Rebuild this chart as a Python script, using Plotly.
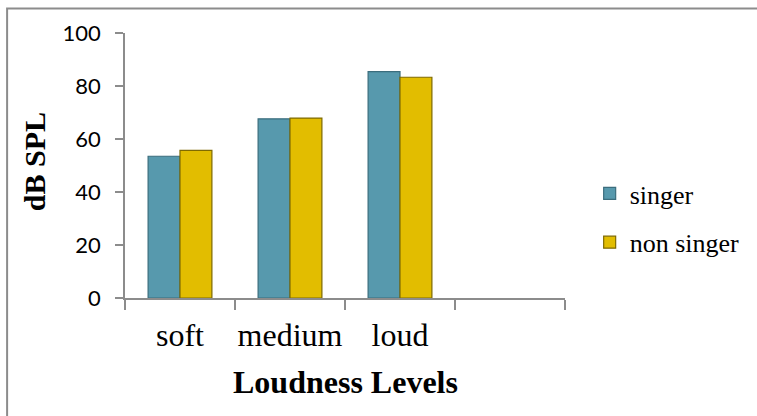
import plotly.graph_objects as go

# Mean sound pressure level per loudness level
levels = ["soft", "medium", "loud"]
axis_categories = ["soft", "medium", "loud", " "]
singer = [53.5, 67.6, 85.4]
non_singer = [55.7, 67.9, 83.3]

fig = go.Figure()
fig.add_trace(go.Bar(
    name="singer", x=levels, y=singer,
    marker=dict(color="#5799ad", line=dict(color="#3b6d7d", width=1.2)),
    legendgroup="a",
))
fig.add_trace(go.Bar(
    name="non singer", x=levels, y=non_singer,
    marker=dict(color="#e2bd00", line=dict(color="#7f6a00", width=1.2)),
    legendgroup="b",
))

W, H = 757, 416
ML, MR, MT, MB = 125, 186, 33, 118
pw, ph = W - ML - MR, H - MT - MB


def px(x):
    return (x - ML) / pw


def py(y):
    return (H - MB - y) / ph


serif = "Liberation Serif"

fig.update_layout(
    width=W, height=H, autosize=False,
    margin=dict(l=ML, r=MR, t=MT, b=MB, pad=0),
    paper_bgcolor="white", plot_bgcolor="white",
    barmode="group", bargap=0.42, bargroupgap=0,
    showlegend=True,
    legend=dict(
        x=px(596), y=py(170), xanchor="left", yanchor="top",
        font=dict(family=serif, size=26, color="black"),
        bgcolor="rgba(0,0,0,0)", tracegroupgap=12,
    ),
    xaxis=dict(
        type="category", categoryorder="array", categoryarray=axis_categories,
        range=[-0.5, 3.5], tickson="boundaries", tickangle=0,
        ticks="outside", ticklen=10, tickwidth=1.5, tickcolor="#8c8c8c",
        showline=True, linecolor="#8c8c8c", linewidth=1.5,
        showgrid=False, zeroline=False,
        tickfont=dict(family=serif, size=32, color="black"),
        ticklabelstandoff=8,
    ),
    yaxis=dict(
        range=[0, 100], dtick=20, tick0=0,
        ticks="outside", ticklen=8, tickwidth=1.5, tickcolor="#8c8c8c",
        showline=True, linecolor="#8c8c8c", linewidth=1.5,
        showgrid=False, zeroline=False,
        tickfont=dict(family="Lato", size=22, color="black"),
        ticklabelstandoff=10,
    ),
    annotations=[
        dict(text="<b>dB SPL</b>", xref="paper", yref="paper",
             x=px(33), y=py(162), xanchor="center", yanchor="middle",
             textangle=-90, showarrow=False,
             font=dict(family=serif, size=30, color="black")),
        dict(text="<b>Loudness Levels</b>", xref="paper", yref="paper",
             x=px(348), y=py(382), xanchor="center", yanchor="middle",
             showarrow=False,
             font=dict(family=serif, size=32, color="black")),
    ],
    shapes=[
        dict(type="rect", xref="paper", yref="paper",
             x0=px(5.5), x1=px(W + 60), y0=py(H + 60), y1=py(8.5),
             line=dict(color="#8c8c8c", width=2), layer="below"),
    ],
)

fig.write_html("out.html")
